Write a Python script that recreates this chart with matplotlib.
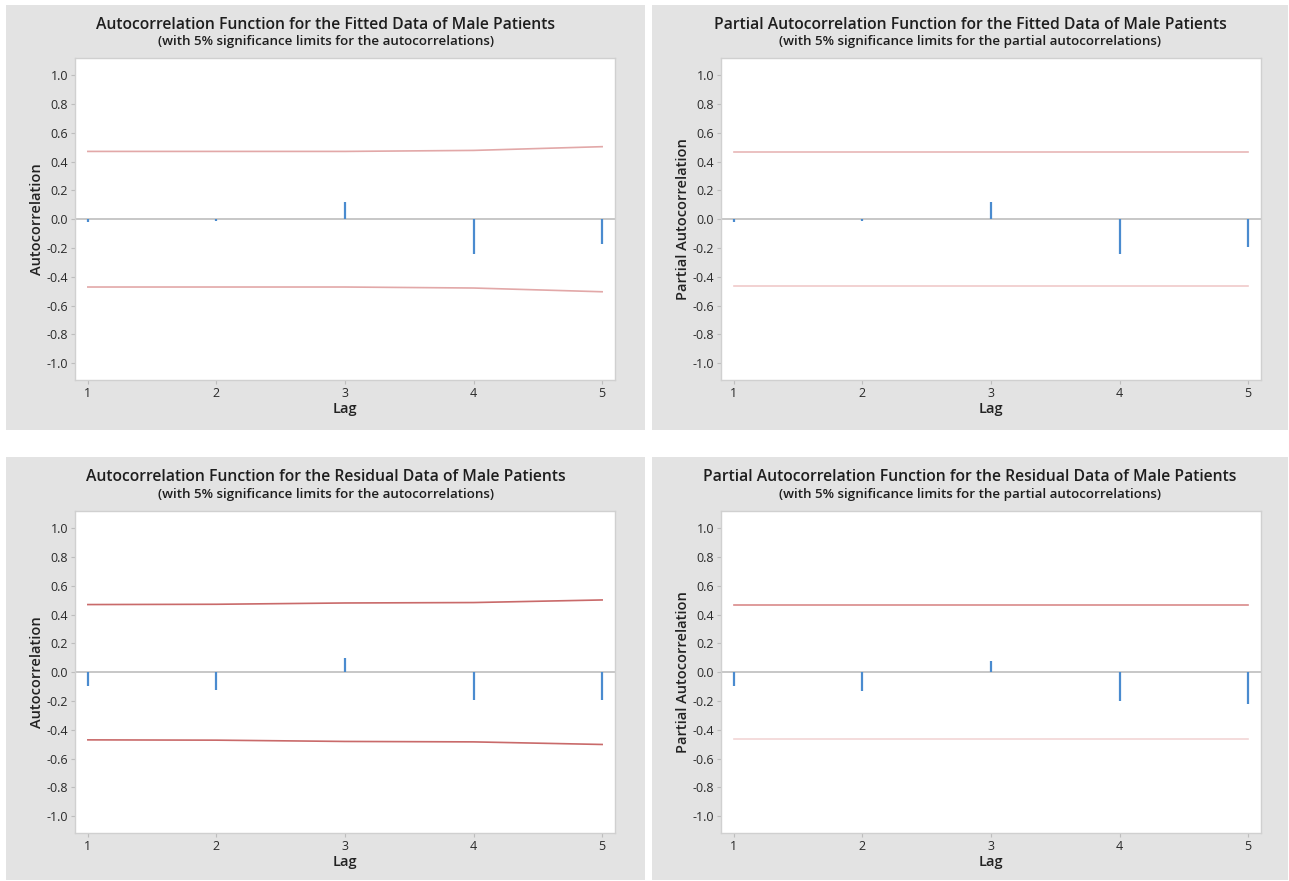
import matplotlib

matplotlib.use('Agg')
import matplotlib.pyplot as plt
import matplotlib.ticker as ticker
from matplotlib.patches import Rectangle

# Lags and read-off values
lags = [1, 2, 3, 4, 5]

acf_fitted = [-0.02, -0.01, 0.117, -0.239, -0.175]
acf_fitted_lim = [0.471, 0.471, 0.471, 0.478, 0.504]

pacf_fitted = [-0.018, -0.01, 0.117, -0.239, -0.19]
pacf_fitted_lim = [0.467, 0.467, 0.467, 0.467, 0.467]

acf_resid = [-0.095, -0.123, 0.102, -0.193, -0.193]
acf_resid_lim = [0.470, 0.472, 0.481, 0.484, 0.502]

pacf_resid = [-0.095, -0.133, 0.081, -0.200, -0.223]
pacf_resid_lim = [0.467, 0.467, 0.467, 0.467, 0.467]

titles = [
    'Autocorrelation Function for the Fitted Data of Male Patients',
    'Partial Autocorrelation Function for the Fitted Data of Male Patients',
    'Autocorrelation Function for the Residual Data of Male Patients',
    'Partial Autocorrelation Function for the Residual Data of Male Patients',
]
subtitles = [
    '(with 5% significance limits for the autocorrelations)',
    '(with 5% significance limits for the partial autocorrelations)',
    '(with 5% significance limits for the autocorrelations)',
    '(with 5% significance limits for the partial autocorrelations)',
]
ylabels = ['Autocorrelation', 'Partial Autocorrelation',
           'Autocorrelation', 'Partial Autocorrelation']

series = [acf_fitted, pacf_fitted, acf_resid, pacf_resid]
limits = [acf_fitted_lim, pacf_fitted_lim, acf_resid_lim, pacf_resid_lim]
# upper / lower limit line colours per panel
lim_colors = [('#E2A8A8', '#E2A8A8'), ('#E8B6B6', '#F0CACA'),
              ('#C96A6A', '#C96A6A'), ('#D98A8A', '#F2D6D6')]

plt.rcParams.update({
    'font.family': ['Open Sans', 'DejaVu Sans'],
    'axes.unicode_minus': False,
})

W, H = 1289, 881
fig = plt.figure(figsize=(W / 100, H / 100), dpi=100)
fig.patch.set_facecolor('white')


def fx(px):
    return px / W


def fy(py):
    return 1 - py / H


# pixel geometry of each panel: (gray box, plot area)
panels = [
    ((6, 5, 645, 430), (75, 58, 615, 380)),
    ((652, 5, 1288, 430), (721, 58, 1261, 380)),
    ((6, 457, 645, 880), (75, 511, 615, 833)),
    ((652, 457, 1288, 880), (721, 511, 1261, 833)),
]

for idx, ((gx0, gy0, gx1, gy1), (ax0, ay0, ax1, ay1)) in enumerate(panels):
    # gray background box
    fig.add_artist(Rectangle((fx(gx0), fy(gy1)), fx(gx1 - gx0), (gy1 - gy0) / H,
                             transform=fig.transFigure, facecolor='#E3E3E3',
                             edgecolor='none', zorder=0))

    ax = fig.add_axes([fx(ax0), fy(ay1), fx(ax1 - ax0), (ay1 - ay0) / H])
    ax.set_facecolor('white')
    ax.set_zorder(1)

    vals = series[idx]
    lim = limits[idx]
    cu, cl = lim_colors[idx]

    ax.axhline(0, color='#BDBDBD', linewidth=1.2, zorder=1)
    ax.vlines(lags, 0, vals, colors='#4A8BCF', linewidth=1.6, zorder=3)
    ax.plot(lags, lim, color=cu, linewidth=1.2, zorder=2)
    ax.plot(lags, [-v for v in lim], color=cl, linewidth=1.2, zorder=2)

    ax.set_xlim(0.9, 5.1)
    ax.set_ylim(-1.117, 1.12)
    ax.xaxis.set_major_locator(ticker.FixedLocator(lags))
    ax.yaxis.set_major_locator(ticker.MultipleLocator(0.2))
    ax.yaxis.set_major_formatter(ticker.FormatStrFormatter('%.1f'))
    ax.tick_params(axis='both', length=3, width=0.8, color='#BDBDBD',
                   labelsize=9, labelcolor='#2A2A2A', pad=2)

    for sp in ax.spines.values():
        sp.set_color('#D0D0D0')
        sp.set_linewidth(1.0)

    ax.set_xlabel('Lag', fontsize=10.5, fontweight='semibold', color='#222222')
    ax.set_ylabel(ylabels[idx], fontsize=10.5, fontweight='semibold', color='#222222')
    ax.xaxis.set_label_coords(0.5, -0.068)
    ax.yaxis.set_label_coords(-0.058, 0.5)

    cx = fx((gx0 + gx1) / 2)
    fig.text(cx, fy(gy0 + 20), titles[idx], ha='center', va='center',
             fontsize=11.3, fontweight='semibold', color='#1E1E1E')
    fig.text(cx, fy(gy0 + 37), subtitles[idx], ha='center', va='center',
             fontsize=9.6, fontweight='semibold', color='#1E1E1E')

plt.savefig('out.png', dpi=100)
